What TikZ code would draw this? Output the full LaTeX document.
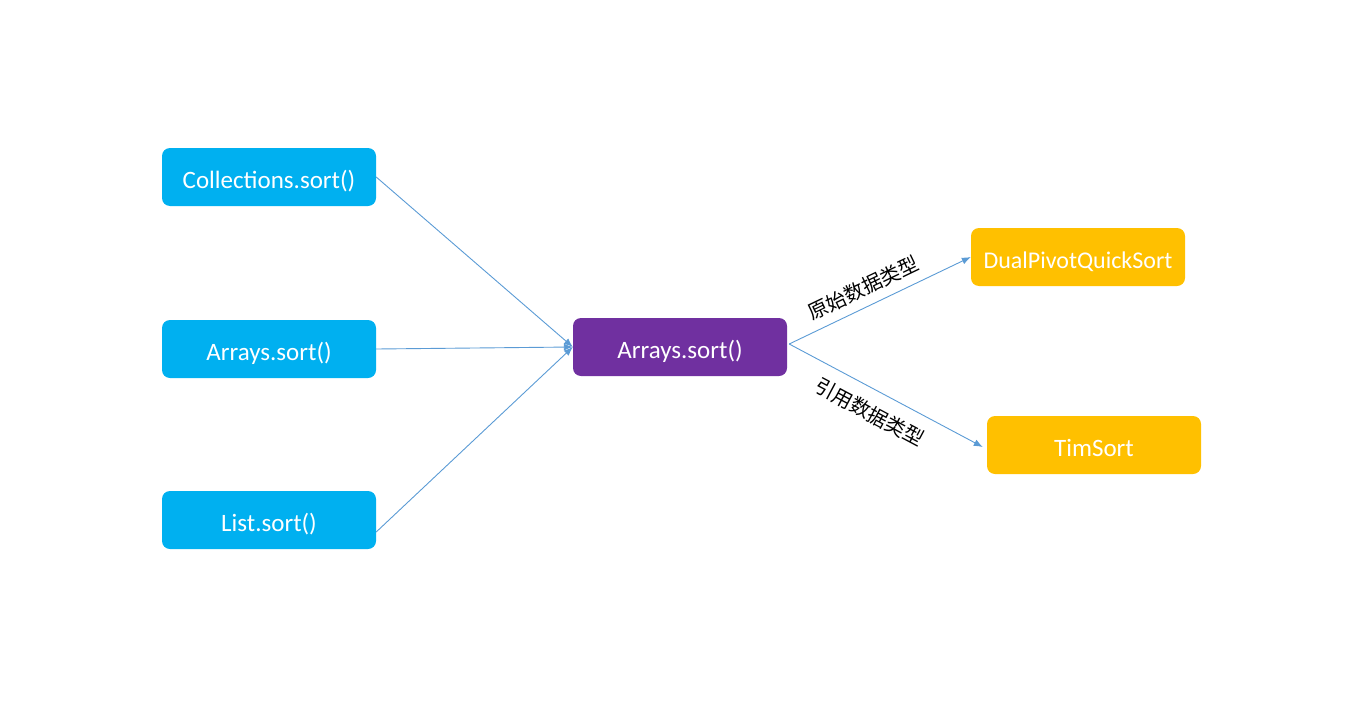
\documentclass[tikz,border=0pt]{standalone}
\usepackage{fontspec}
\usetikzlibrary{arrows.meta}
\setmainfont{Carlito}
\newfontfamily\cjk{Noto Sans CJK SC}
\definecolor{bluebox}{HTML}{00B0F0}
\definecolor{purplebox}{HTML}{7030A0}
\definecolor{goldbox}{HTML}{FFC000}
\definecolor{linkline}{HTML}{5B9BD5}
\tikzset{
  sortbox/.style={rounded corners=8pt, minimum width=214pt, minimum height=58pt, text=white, font=\fontsize{25}{30}\selectfont, inner sep=0pt, text height=24pt, text depth=2pt},
  link/.style={-{Latex[length=9pt,width=7pt]}, linkline, line width=0.9pt},
  kind/.style={sloped, text=black, font=\cjk\fontsize{20}{22}\selectfont}
}
\begin{document}
\begin{tikzpicture}[x=1pt, y=-1pt]
\useasboundingbox (0,0) rectangle (1355,728);
\node[sortbox, fill=bluebox] (coll) at (269,177) {Collections.sort()};
\node[sortbox, fill=bluebox] (arr) at (269,349) {Arrays.sort()};
\node[sortbox, fill=bluebox] (list) at (269,520) {List.sort()};
\node[sortbox, fill=purplebox] (mid) at (680,347) {Arrays.sort()};
\node[sortbox, fill=goldbox, font=\fontsize{24}{28}\selectfont] (dual) at (1078,257) {DualPivotQuickSort};
\node[sortbox, fill=goldbox] (tim) at (1094,445) {TimSort};
% left side
\draw[link] (coll.east) -- (mid.west);
\draw[link] (arr.east) -- (mid.west);
\draw[link] ([yshift=-12pt]list.east) -- (mid.west);
% right side
\draw[link] ([xshift=2pt,yshift=3pt]mid.east) -- (dual.west) node[pos=0.45, above, inner sep=9pt, kind] {原始数据类型};
\draw[link] ([xshift=2pt,yshift=3pt]mid.east) -- ([xshift=-4pt,yshift=-2pt]tim.west) node[pos=0.47, below, inner sep=13pt, kind] {引用数据类型};
\end{tikzpicture}
\end{document}
